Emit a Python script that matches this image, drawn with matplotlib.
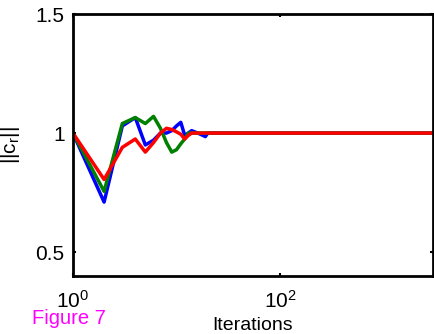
import matplotlib
matplotlib.use("Agg")
import matplotlib.pyplot as plt

plt.rcParams['font.family'] = ['Liberation Sans', 'DejaVu Sans']
plt.rcParams['mathtext.fontset'] = 'custom'
plt.rcParams['mathtext.rm'] = 'Liberation Sans'
plt.rcParams['mathtext.it'] = 'Liberation Sans'

# Iteration counts and ||c_r|| values
iters = [1, 2, 3, 4, 5, 6, 7, 8, 9, 10, 11, 12, 13, 14, 15, 16, 17, 18, 19, 20, 3000]
blue = [1.0, 0.71, 1.03, 1.065, 0.95, 0.97, 1.0, 1.0, 1.01, 1.03, 1.045, 0.99,
        1.0, 1.01, 1.005, 1.0, 0.995, 0.99, 0.985, 1.0, 1.0]
green = [1.0, 0.755, 1.04, 1.065, 1.04, 1.07, 1.02, 0.96, 0.92, 0.93, 0.955, 0.975,
         1.0, 1.0, 1.0, 1.0, 1.0, 1.0, 1.0, 1.0, 1.0]
red = [1.0, 0.805, 0.94, 0.975, 0.92, 0.96, 1.0, 1.02, 1.015, 1.005, 0.995, 0.975,
       0.99, 1.0, 1.0, 1.0, 1.0, 1.0, 1.0, 1.0, 1.0]

fig = plt.figure(figsize=(4.34, 3.34), dpi=100)
ax = fig.add_axes([0.168, 0.174, 0.83, 0.784])

ax.plot(iters, blue, color=(0, 0, 1), lw=2.5)
ax.plot(iters, green, color=(0, 0.5, 0), lw=2.5)
ax.plot(iters, red, color=(1, 0, 0), lw=2.5)

ax.set_xscale('log')
ax.set_xlim(1, 3000)
ax.set_ylim(0.4, 1.5)
ax.set_xticks([1, 100])
ax.set_xticklabels([r'$\mathregular{10^0}$', r'$\mathregular{10^2}$'])
ax.minorticks_off()
ax.set_yticks([0.5, 1, 1.5])
ax.set_yticklabels(['0.5', '1', '1.5'])
ax.tick_params(direction='in', length=2, width=1.5, labelsize=15,
               top=True, right=True)
ax.tick_params(axis='x', pad=10)
ax.tick_params(axis='y', pad=6)

for s in ax.spines.values():
    s.set_linewidth(2)

ax.set_xlabel('Iterations', fontsize=14, labelpad=4)
ax.set_ylabel(r'$\mathregular{||c_r||}$', fontsize=15, labelpad=10)

fig.text(0.074, 0.03, 'Figure 7', color='magenta', fontsize=14.5)

fig.savefig('out.png', dpi=100)
